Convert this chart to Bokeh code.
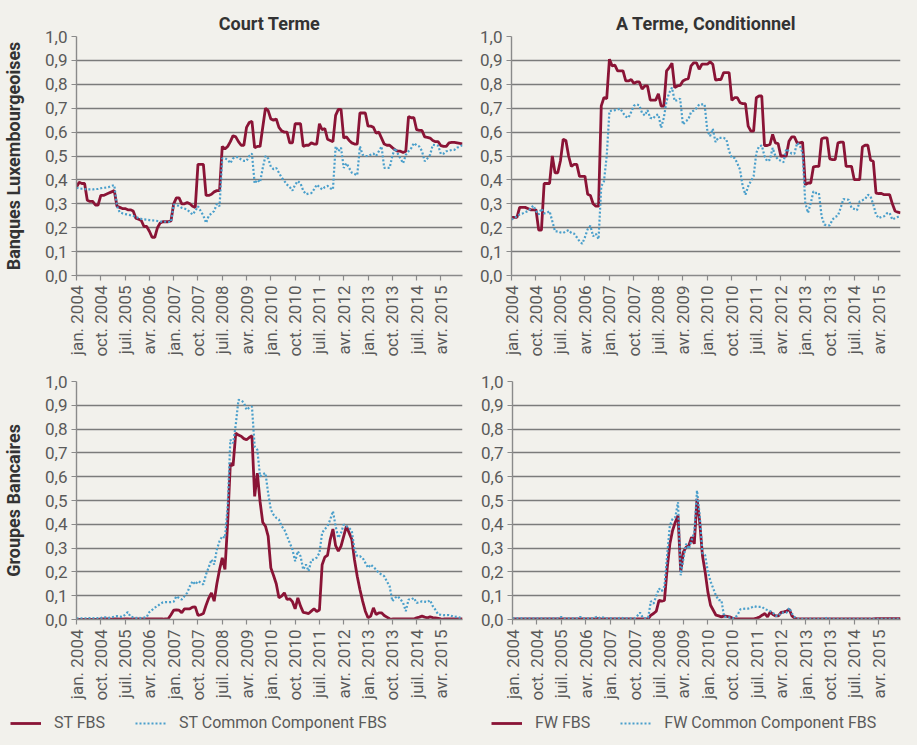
import math
from bokeh.plotting import figure
from bokeh.models import Range1d, FixedTicker, Legend, LegendItem
from bokeh.layouts import column, row
from bokeh.embed import file_html
from bokeh.resources import INLINE
from bokeh.core.templates import get_env

# ---------------- data ----------------
months = list(range(144))  # monthly, jan. 2004 .. dec. 2015

x_tick_months = [0, 9, 18, 27, 36, 45, 54, 63, 72, 81, 90, 99, 108, 117, 126, 135]
x_tick_labels = ["jan. 2004", "oct. 2004", "juil. 2005", "avr. 2006", "jan. 2007",
                 "oct. 2007", "juil. 2008", "avr. 2009", "jan. 2010", "oct. 2010",
                 "juil. 2011", "avr. 2012", "jan. 2013", "oct. 2013", "juil. 2014",
                 "avr. 2015"]
y_ticks = [0.0, 0.1, 0.2, 0.3, 0.4, 0.5, 0.6, 0.7, 0.8, 0.9, 1.0]
y_tick_labels = ["0,0", "0,1", "0,2", "0,3", "0,4", "0,5", "0,6", "0,7", "0,8", "0,9", "1,0"]

# Banques Luxembourgeoises - Court Terme
st_fbs_lux = [
    0.37, 0.39, 0.385, 0.385, 0.315, 0.31, 0.31, 0.295, 0.295, 0.335, 0.335, 0.34,
    0.345, 0.35, 0.355, 0.29, 0.285, 0.28, 0.28, 0.275, 0.275, 0.27, 0.24, 0.235,
    0.23, 0.205, 0.205, 0.185, 0.16, 0.16, 0.2, 0.22, 0.225, 0.225, 0.225, 0.228,
    0.3, 0.325, 0.325, 0.3, 0.3, 0.305, 0.3, 0.29, 0.285, 0.465, 0.465, 0.465,
    0.335, 0.335, 0.34, 0.35, 0.355, 0.355, 0.54, 0.53, 0.54, 0.56, 0.585, 0.58,
    0.56, 0.545, 0.545, 0.62, 0.64, 0.645, 0.535, 0.54, 0.54, 0.62, 0.7, 0.69,
    0.655, 0.65, 0.655, 0.62, 0.605, 0.6, 0.6, 0.555, 0.555, 0.635, 0.635, 0.635,
    0.54, 0.545, 0.545, 0.555, 0.55, 0.55, 0.635, 0.61, 0.615, 0.57, 0.565, 0.56,
    0.67, 0.695, 0.695, 0.575, 0.58, 0.565, 0.555, 0.55, 0.55, 0.68, 0.68, 0.68,
    0.625, 0.625, 0.62, 0.595, 0.6, 0.575, 0.55, 0.545, 0.545, 0.535, 0.526, 0.52,
    0.52, 0.515, 0.52, 0.665, 0.66, 0.66, 0.61, 0.607, 0.607, 0.58, 0.578, 0.575,
    0.565, 0.56, 0.56, 0.543, 0.54, 0.54, 0.555, 0.557, 0.557, 0.555, 0.553, 0.551,
]
st_common_lux = [
    0.367, 0.365, 0.363, 0.362, 0.36, 0.36, 0.36, 0.362, 0.362, 0.365, 0.367, 0.368,
    0.37, 0.375, 0.378, 0.29, 0.265, 0.26, 0.257, 0.255, 0.252, 0.249, 0.245, 0.24,
    0.237, 0.235, 0.234, 0.232, 0.231, 0.23, 0.228, 0.226, 0.225, 0.225, 0.224, 0.224,
    0.297, 0.295, 0.29, 0.283, 0.28, 0.276, 0.265, 0.255, 0.27, 0.29, 0.27, 0.25,
    0.22, 0.25, 0.26, 0.27, 0.3, 0.29, 0.49, 0.49, 0.485, 0.47, 0.49, 0.495,
    0.495, 0.485, 0.48, 0.48, 0.5, 0.51, 0.385, 0.4, 0.39, 0.45, 0.5, 0.49,
    0.455, 0.445, 0.45, 0.43, 0.41, 0.395, 0.38, 0.37, 0.355, 0.38, 0.395, 0.385,
    0.355, 0.34, 0.343, 0.345, 0.36, 0.38, 0.37, 0.36, 0.37, 0.375, 0.365, 0.36,
    0.54, 0.52, 0.535, 0.45, 0.47, 0.45, 0.43, 0.425, 0.42, 0.54, 0.505, 0.5,
    0.5, 0.505, 0.51, 0.5, 0.52, 0.54, 0.45, 0.45, 0.45, 0.5, 0.533, 0.51,
    0.49, 0.47, 0.505, 0.52, 0.533, 0.554, 0.545, 0.54, 0.52, 0.478, 0.49, 0.505,
    0.547, 0.545, 0.543, 0.508, 0.51, 0.52, 0.522, 0.525, 0.526, 0.535, 0.54, 0.545,
]
# Banques Luxembourgeoises - A Terme, Conditionnel
fw_fbs_lux = [
    0.243, 0.243, 0.243, 0.285, 0.285, 0.285, 0.28, 0.275, 0.275, 0.275, 0.19, 0.19,
    0.385, 0.385, 0.385, 0.5, 0.43, 0.43, 0.48, 0.57, 0.565, 0.5, 0.457, 0.465,
    0.465, 0.415, 0.415, 0.415, 0.34, 0.335, 0.3, 0.29, 0.29, 0.71, 0.745, 0.74,
    0.905, 0.877, 0.88, 0.856, 0.856, 0.856, 0.814, 0.814, 0.82, 0.804, 0.81, 0.81,
    0.78, 0.793, 0.793, 0.734, 0.734, 0.734, 0.76, 0.709, 0.709, 0.856, 0.87, 0.888,
    0.786, 0.793, 0.795, 0.814, 0.82, 0.824, 0.877, 0.89, 0.89, 0.863, 0.884, 0.884,
    0.884, 0.894, 0.884, 0.818, 0.82, 0.82, 0.849, 0.849, 0.849, 0.733, 0.744, 0.744,
    0.723, 0.719, 0.719, 0.625, 0.604, 0.604, 0.744, 0.751, 0.751, 0.544, 0.544, 0.548,
    0.59, 0.555, 0.552, 0.5, 0.5, 0.5, 0.562, 0.58, 0.58, 0.555, 0.555, 0.558,
    0.38, 0.387, 0.387, 0.455, 0.457, 0.457, 0.572, 0.576, 0.576, 0.488, 0.485, 0.485,
    0.555, 0.558, 0.558, 0.457, 0.457, 0.457, 0.401, 0.401, 0.401, 0.538, 0.545, 0.545,
    0.482, 0.478, 0.345, 0.343, 0.343, 0.338, 0.338, 0.338, 0.3, 0.27, 0.265, 0.262,
]
fw_common_lux = [
    0.234, 0.24, 0.248, 0.255, 0.259, 0.265, 0.269, 0.28, 0.292, 0.27, 0.255, 0.28,
    0.26, 0.262, 0.269, 0.227, 0.185, 0.185, 0.18, 0.178, 0.185, 0.19, 0.178, 0.175,
    0.16, 0.143, 0.133, 0.16, 0.194, 0.208, 0.164, 0.175, 0.152, 0.373, 0.394, 0.5,
    0.688, 0.69, 0.692, 0.695, 0.698, 0.68, 0.665, 0.66, 0.684, 0.71, 0.716, 0.712,
    0.68, 0.67, 0.692, 0.66, 0.656, 0.67, 0.674, 0.618, 0.66, 0.73, 0.765, 0.786,
    0.73, 0.734, 0.74, 0.632, 0.645, 0.653, 0.684, 0.69, 0.7, 0.716, 0.716, 0.716,
    0.604, 0.583, 0.614, 0.558, 0.576, 0.576, 0.576, 0.569, 0.52, 0.492, 0.492, 0.47,
    0.443, 0.373, 0.338, 0.373, 0.395, 0.415, 0.513, 0.541, 0.544, 0.5, 0.478, 0.485,
    0.534, 0.5, 0.485, 0.48, 0.474, 0.53, 0.52, 0.51, 0.51, 0.555, 0.544, 0.513,
    0.303, 0.262, 0.303, 0.352, 0.345, 0.345, 0.248, 0.213, 0.21, 0.21, 0.234, 0.245,
    0.25, 0.283, 0.32, 0.318, 0.317, 0.283, 0.278, 0.273, 0.31, 0.315, 0.32, 0.338,
    0.331, 0.297, 0.255, 0.24, 0.245, 0.248, 0.26, 0.262, 0.234, 0.24, 0.245, 0.25,
]
# Groupes Bancaires - Court Terme
st_fbs_grp = [
    0.0, 0.0, 0.0, 0.0, 0.0, 0.0, 0.0, 0.0, 0.0, 0.003, 0.003, 0.003,
    0.003, 0.002, 0.003, 0.003, 0.002, 0.002, 0.003, 0.003, 0.002, 0.002, 0.002, 0.002,
    0.002, 0.002, 0.002, 0.002, 0.002, 0.002, 0.002, 0.002, 0.002, 0.003, 0.003, 0.02,
    0.039, 0.04, 0.039, 0.028, 0.045, 0.045, 0.045, 0.052, 0.053, 0.017, 0.02, 0.025,
    0.06, 0.09, 0.112, 0.077, 0.15, 0.21, 0.259, 0.21, 0.406, 0.657, 0.646, 0.783,
    0.775, 0.77, 0.76, 0.755, 0.765, 0.772, 0.517, 0.615, 0.496, 0.408, 0.392, 0.35,
    0.217, 0.185, 0.15, 0.091, 0.098, 0.112, 0.084, 0.087, 0.075, 0.045, 0.091, 0.056,
    0.03, 0.028, 0.025, 0.035, 0.045, 0.034, 0.04, 0.23, 0.262, 0.27, 0.336, 0.38,
    0.31, 0.287, 0.308, 0.35, 0.392, 0.364, 0.336, 0.25, 0.182, 0.126, 0.077, 0.035,
    0.007, 0.014, 0.049, 0.021, 0.028, 0.028, 0.017, 0.01, 0.003, 0.002, 0.002, 0.002,
    0.002, 0.002, 0.002, 0.002, 0.002, 0.002, 0.007, 0.01, 0.014, 0.01, 0.007, 0.011,
    0.008, 0.007, 0.005, 0.003, 0.002, 0.002, 0.002, 0.002, 0.002, 0.002, 0.002, 0.002,
]
st_common_grp = [
    0.005, 0.005, 0.005, 0.005, 0.005, 0.006, 0.006, 0.005, 0.006, 0.006, 0.011, 0.008,
    0.007, 0.009, 0.012, 0.014, 0.012, 0.011, 0.02, 0.031, 0.012, 0.009, 0.007, 0.007,
    0.006, 0.008, 0.01, 0.031, 0.04, 0.05, 0.056, 0.065, 0.072, 0.073, 0.073, 0.073,
    0.075, 0.098, 0.09, 0.084, 0.098, 0.112, 0.14, 0.161, 0.147, 0.161, 0.155, 0.147,
    0.19, 0.22, 0.252, 0.231, 0.294, 0.33, 0.35, 0.343, 0.476, 0.755, 0.741, 0.818,
    0.923, 0.92, 0.912, 0.881, 0.89, 0.895, 0.727, 0.713, 0.601, 0.61, 0.615, 0.531,
    0.462, 0.44, 0.427, 0.42, 0.392, 0.378, 0.35, 0.322, 0.294, 0.245, 0.287, 0.266,
    0.21, 0.231, 0.203, 0.25, 0.252, 0.26, 0.28, 0.364, 0.38, 0.392, 0.42, 0.455,
    0.392, 0.343, 0.364, 0.399, 0.392, 0.385, 0.371, 0.294, 0.266, 0.266, 0.259, 0.238,
    0.217, 0.231, 0.22, 0.21, 0.195, 0.189, 0.182, 0.16, 0.14, 0.077, 0.091, 0.098,
    0.085, 0.07, 0.035, 0.084, 0.084, 0.091, 0.07, 0.072, 0.077, 0.075, 0.073, 0.081,
    0.056, 0.04, 0.021, 0.02, 0.018, 0.018, 0.019, 0.015, 0.011, 0.012, 0.008, 0.007,
]
# Groupes Bancaires - A Terme, Conditionnel
fw_fbs_grp = [
    0.002, 0.002, 0.002, 0.002, 0.002, 0.002, 0.002, 0.002, 0.002, 0.002, 0.002, 0.002,
    0.002, 0.002, 0.002, 0.002, 0.002, 0.002, 0.002, 0.002, 0.002, 0.002, 0.002, 0.002,
    0.002, 0.002, 0.002, 0.002, 0.002, 0.002, 0.002, 0.004, 0.004, 0.002, 0.002, 0.002,
    0.002, 0.002, 0.002, 0.002, 0.002, 0.002, 0.002, 0.002, 0.002, 0.002, 0.003, 0.003,
    0.003, 0.003, 0.003, 0.018, 0.025, 0.035, 0.081, 0.077, 0.08, 0.214, 0.318, 0.374,
    0.409, 0.437, 0.2, 0.284, 0.304, 0.311, 0.346, 0.318, 0.507, 0.409, 0.27, 0.2,
    0.116, 0.06, 0.039, 0.018, 0.015, 0.011, 0.015, 0.013, 0.011, 0.006, 0.003, 0.003,
    0.003, 0.003, 0.003, 0.003, 0.003, 0.003, 0.006, 0.01, 0.018, 0.025, 0.011, 0.032,
    0.021, 0.015, 0.015, 0.03, 0.032, 0.035, 0.043, 0.015, 0.006, 0.002, 0.002, 0.002,
    0.002, 0.002, 0.002, 0.002, 0.002, 0.002, 0.002, 0.002, 0.002, 0.002, 0.002, 0.002,
    0.002, 0.002, 0.002, 0.002, 0.002, 0.002, 0.002, 0.002, 0.002, 0.002, 0.002, 0.002,
    0.002, 0.003, 0.004, 0.004, 0.004, 0.004, 0.004, 0.004, 0.004, 0.004, 0.004, 0.004,
]
fw_common_grp = [
    0.005, 0.006, 0.005, 0.005, 0.006, 0.005, 0.005, 0.005, 0.005, 0.005, 0.005, 0.005,
    0.005, 0.005, 0.005, 0.005, 0.005, 0.005, 0.011, 0.005, 0.005, 0.005, 0.005, 0.005,
    0.005, 0.011, 0.005, 0.005, 0.005, 0.005, 0.005, 0.011, 0.006, 0.011, 0.005, 0.005,
    0.005, 0.005, 0.005, 0.005, 0.008, 0.005, 0.005, 0.005, 0.005, 0.005, 0.015, 0.029,
    0.008, 0.005, 0.008, 0.077, 0.067, 0.1, 0.13, 0.119, 0.14, 0.27, 0.395, 0.423,
    0.43, 0.493, 0.186, 0.256, 0.318, 0.297, 0.332, 0.367, 0.542, 0.437, 0.277, 0.27,
    0.2, 0.16, 0.13, 0.1, 0.081, 0.081, 0.011, 0.011, 0.008, 0.004, 0.007, 0.02,
    0.043, 0.045, 0.046, 0.046, 0.05, 0.056, 0.053, 0.053, 0.053, 0.043, 0.04, 0.035,
    0.029, 0.015, 0.015, 0.029, 0.029, 0.029, 0.049, 0.025, 0.01, 0.003, 0.003, 0.003,
    0.003, 0.003, 0.003, 0.003, 0.003, 0.003, 0.003, 0.003, 0.008, 0.003, 0.003, 0.003,
    0.003, 0.003, 0.003, 0.003, 0.003, 0.003, 0.003, 0.003, 0.003, 0.003, 0.003, 0.003,
    0.003, 0.003, 0.003, 0.003, 0.003, 0.003, 0.003, 0.003, 0.003, 0.003, 0.003, 0.003,
]

legend_labels_st = ["ST FBS", "ST Common Component FBS"]
legend_labels_fw = ["FW FBS", "FW Common Component FBS"]

# ---------------- styling ----------------
BG = "#f2f1ec"
RED = "#8a1436"
BLUE = "#4a9fcb"
GRID = "#7b7b7b"
AXIS = "#8a8a8a"
TICK_TXT = "#5a5a5a"
DARK = "#333333"
FONT = "Roboto"


def make_panel(width, height, mbl, mbr, mbt, mbb, title=None, ylabel=None):
    p = figure(width=width, height=height, output_backend="svg", toolbar_location=None,
               x_range=Range1d(months[0], months[-1]), y_range=Range1d(y_ticks[0], y_ticks[-1]),
               title=title, min_border_left=mbl, min_border_right=mbr,
               min_border_top=mbt, min_border_bottom=mbb)
    p.background_fill_color = BG
    p.border_fill_color = BG
    p.outline_line_color = None
    if title is not None:
        p.title.text_font = FONT
        p.title.text_font_size = "18px"
        p.title.text_font_style = "bold"
        p.title.text_color = DARK
        p.title.align = "center"
        p.title.standoff = 6

    p.xgrid.visible = False
    p.ygrid.ticker = FixedTicker(ticks=y_ticks)
    p.ygrid.grid_line_color = GRID
    p.ygrid.grid_line_width = 1.4

    ya = p.yaxis[0]
    ya.ticker = FixedTicker(ticks=y_ticks)
    ya.major_label_overrides = dict(zip(y_ticks, y_tick_labels))
    xa = p.xaxis[0]
    xa.ticker = FixedTicker(ticks=x_tick_months)
    xa.major_label_overrides = dict(zip(x_tick_months, x_tick_labels))
    xa.major_label_orientation = math.pi / 2
    for ax in (xa, ya):
        ax.axis_line_color = AXIS
        ax.axis_line_width = 1.4
        ax.major_tick_line_color = AXIS
        ax.major_tick_line_width = 1.2
        ax.major_tick_in = 0
        ax.major_tick_out = 5
        ax.minor_tick_line_color = None
        ax.major_label_text_font = FONT
        ax.major_label_text_font_size = "17px"
        ax.major_label_text_color = TICK_TXT
        ax.major_label_standoff = 4
    xa.major_label_standoff = 5
    if ylabel is not None:
        ya.axis_label = ylabel
        ya.axis_label_text_font = FONT
        ya.axis_label_text_font_size = "18px"
        ya.axis_label_text_font_style = "bold"
        ya.axis_label_text_color = DARK
        ya.axis_label_standoff = 18
    return p


def add_series(p, main, common):
    r1 = p.line(months, main, line_color=RED, line_width=2.8)
    r2 = p.line(months, common, line_color=BLUE, line_width=2.2, line_dash="2 2")
    return r1, r2


def add_legend(p, r1, r2, labels, loc):
    leg = Legend(items=[LegendItem(label=labels[0], renderers=[r1]),
                        LegendItem(label=labels[1], renderers=[r2])],
                 location=loc, orientation="horizontal")
    leg.background_fill_alpha = 0
    leg.border_line_color = None
    leg.padding = 0
    leg.margin = 0
    leg.spacing = 30
    leg.label_standoff = 13
    leg.glyph_width = 31
    leg.glyph_height = 16
    leg.label_height = 18
    leg.label_text_font = FONT
    leg.label_text_font_size = "16px"
    leg.label_text_color = TICK_TXT
    p.add_layout(leg)


p_tl = make_panel(472, 367, 74, 10, 35, 92, title="Court Terme", ylabel="Banques Luxembourgeoises")
add_series(p_tl, st_fbs_lux, st_common_lux)

p_tr = make_panel(429, 367, 39, 1, 36, 91, title="A Terme, Conditionnel")
add_series(p_tr, fw_fbs_lux, fw_common_lux)

p_bl = make_panel(472, 338, 74, 10, 13, 86, ylabel="Groupes Bancaires")
add_series(p_bl, st_fbs_grp, st_common_grp)

p_br = make_panel(429, 338, 40, 1, 14, 85)
add_series(p_br, fw_fbs_grp, fw_common_grp)

# legend strip: its own canvas, so the legends are not clipped; the series are
# drawn there too but fall outside its y range, so only the legend keys show.
p_leg = figure(width=901, height=26, output_backend="svg", toolbar_location=None,
               x_range=Range1d(months[0], months[-1]), y_range=Range1d(10, 11), title=None,
               x_axis_location=None, y_axis_location=None,
               min_border_left=0, min_border_right=0, min_border_top=0, min_border_bottom=0)
p_leg.background_fill_color = BG
p_leg.border_fill_color = BG
p_leg.outline_line_color = None
p_leg.grid.visible = False
ls1, ls2 = add_series(p_leg, st_fbs_grp, st_common_grp)
lf1, lf2 = add_series(p_leg, fw_fbs_grp, fw_common_grp)
add_legend(p_leg, ls1, ls2, legend_labels_st, (10, -1))
add_legend(p_leg, lf1, lf2, legend_labels_fw, (491, -1))

layout = column(row(p_tl, p_tr), row(p_bl, p_br), p_leg)

template = get_env().from_string(
    "{% extends base %}{% block preamble %}<style>html, body { background-color: #f2f1ec; }</style>{% endblock %}"
)
open("out.html", "w").write(file_html(layout, INLINE, title="FBS", template=template))
